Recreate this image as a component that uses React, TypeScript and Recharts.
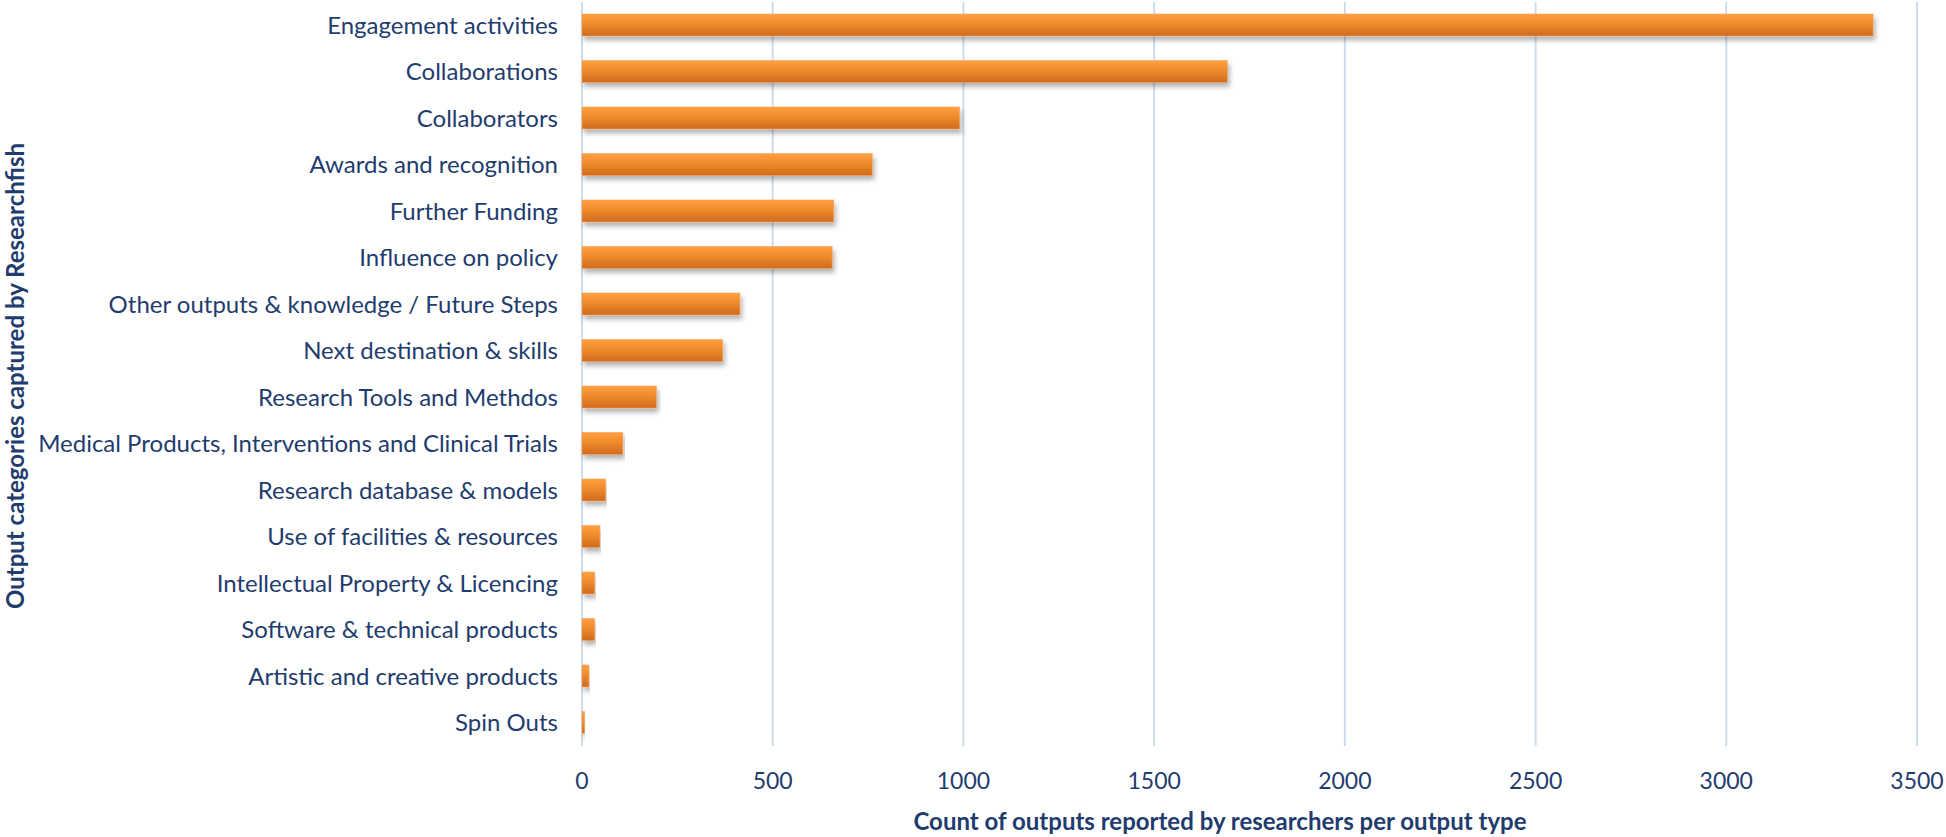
import { BarChart, Bar, XAxis, YAxis, CartesianGrid } from 'recharts';

const categories = [
  'Engagement activities',
  'Collaborations',
  'Collaborators',
  'Awards and recognition',
  'Further Funding',
  'Influence on policy',
  'Other outputs & knowledge / Future Steps',
  'Next destination & skills',
  'Research Tools and Methdos',
  'Medical Products, Interventions and Clinical Trials',
  'Research database & models',
  'Use of facilities & resources',
  'Intellectual Property & Licencing',
  'Software & technical products',
  'Artistic and creative products',
  'Spin Outs',
];

const counts = [3385, 1692, 990, 761, 660, 656, 414, 369, 195, 107, 62, 47, 33, 33, 18, 7];

const xTicks = [0, 500, 1000, 1500, 2000, 2500, 3000, 3500];

const TEXT = '#1f3c6e';
const FONT = 'Lato, "Open Sans", sans-serif';

const data = categories.map((name, i) => ({ name, value: counts[i] }));

export default function App() {
  return (
    <div style={{ position: 'absolute', left: 0, top: 0, background: '#fff' }}>
      <BarChart
        width={1946}
        height={837}
        data={data}
        layout="vertical"
        margin={{ top: 2, right: 29, bottom: 0, left: 0 }}
        barSize={22}
      >
        <defs>
          <linearGradient id="barFill" x1="0" y1="0" x2="0" y2="1">
            <stop offset="0%" stopColor="#ffa040" />
            <stop offset="45%" stopColor="#f08a2c" />
            <stop offset="100%" stopColor="#d06a1e" />
          </linearGradient>
          <filter id="barShadow" x="-5%" y="-30%" width="110%" height="180%">
            <feDropShadow dx="2" dy="4" stdDeviation="2.5" floodColor="#000" floodOpacity="0.3" />
          </filter>
        </defs>
        <CartesianGrid horizontal={false} stroke="#cddcef" strokeWidth={2} />
        <XAxis
          type="number"
          domain={[0, 3500]}
          ticks={xTicks}
          height={91}
          axisLine={false}
          tickLine={false}
          tickSize={0}
          tickMargin={27}
          tick={{ fill: TEXT, fontSize: 23, fontFamily: FONT }}
          label={{
            content: () => (
              <text
                x={1220}
                y={820}
                textAnchor="middle"
                dominantBaseline="central"
                fill={TEXT}
                fontSize={24}
                fontWeight={700}
                fontFamily={FONT}
              >
                Count of outputs reported by researchers per output type
              </text>
            ),
          }}
        />
        <YAxis
          type="category"
          dataKey="name"
          width={582}
          axisLine={false}
          tickLine={false}
          tickSize={0}
          tickMargin={24}
          interval={0}
          tick={{ fill: TEXT, fontSize: 24, fontFamily: FONT }}
          label={{
            content: () => (
              <text
                x={14}
                y={376}
                transform="rotate(-90 14 376)"
                textAnchor="middle"
                dominantBaseline="central"
                fill={TEXT}
                fontSize={24}
                fontWeight={700}
                fontFamily={FONT}
              >
                Output categories captured by Researchfish
              </text>
            ),
          }}
        />
        <Bar
          dataKey="value"
          fill="url(#barFill)"
          stroke="#f6a25a"
          strokeWidth={0.6}
          filter="url(#barShadow)"
          isAnimationActive={false}
        />
      </BarChart>
    </div>
  );
}
